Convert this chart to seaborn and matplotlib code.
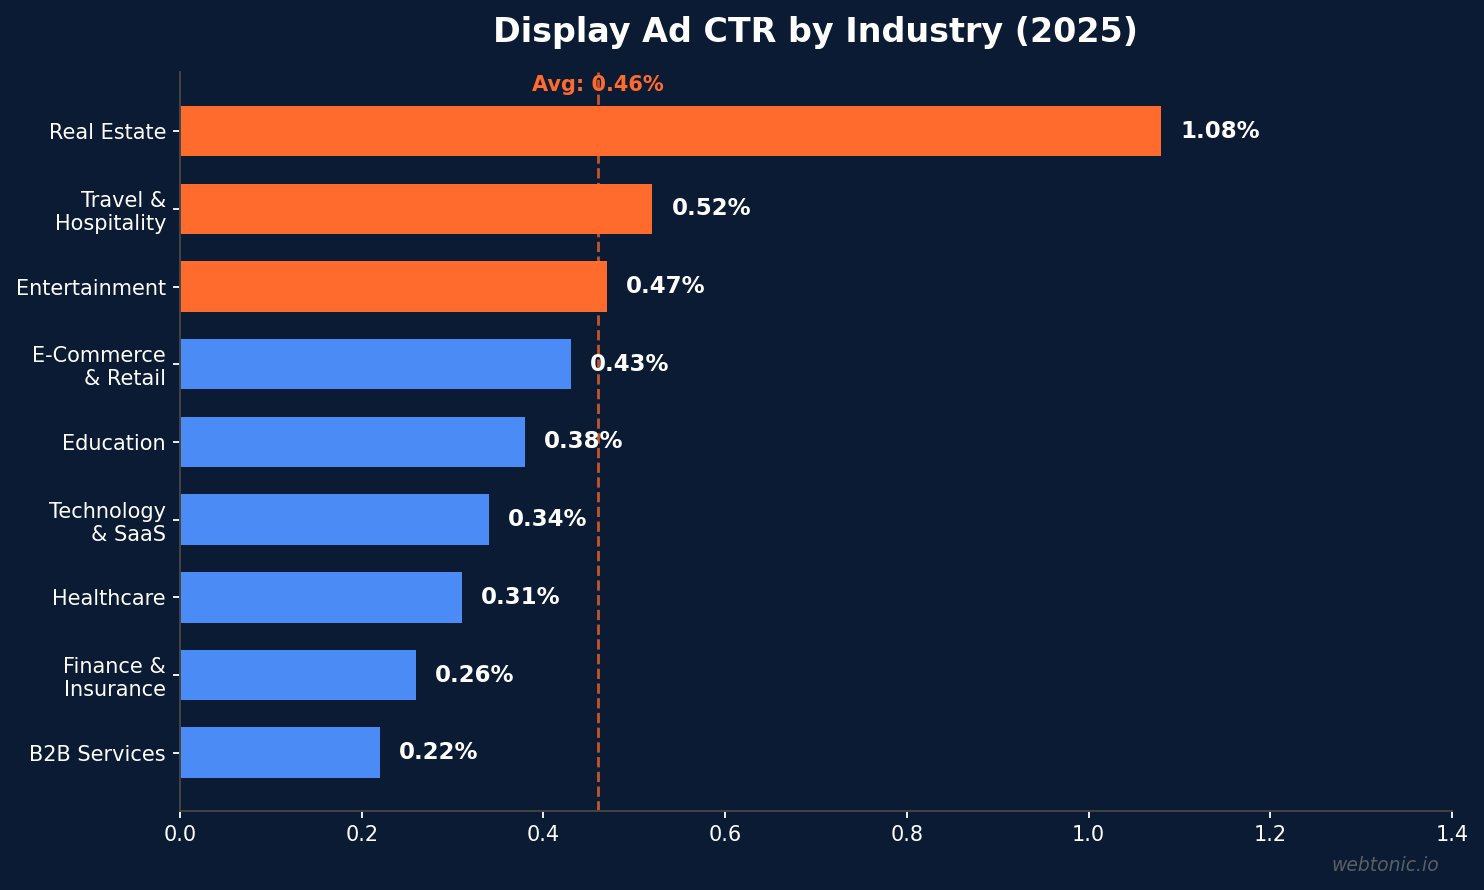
import pandas as pd
import seaborn as sns
import matplotlib.pyplot as plt

industries = ['Real Estate', 'Travel &\nHospitality', 'Entertainment', 'E-Commerce\n& Retail',
              'Education', 'Technology\n& SaaS', 'Healthcare', 'Finance &\nInsurance', 'B2B Services']
ctr = [1.08, 0.52, 0.47, 0.43, 0.38, 0.34, 0.31, 0.26, 0.22]
avg_ctr = 0.46

bg = '#0B1B33'
orange = '#FF6B2C'
blue = '#4B8BF5'

df = pd.DataFrame({'industry': industries, 'ctr': ctr})
df['group'] = ['above' if v > avg_ctr else 'below' for v in ctr]

sns.set_style('white')
plt.rcParams['font.family'] = ['DejaVu Sans']

fig = plt.figure(figsize=(14.84, 8.9), dpi=100, facecolor=bg)
ax = fig.add_axes([0.1213, 0.0888, 0.8571, 0.8302])
ax.set_facecolor(bg)

sns.barplot(data=df, x='ctr', y='industry', hue='group', palette={'above': orange, 'below': blue},
            width=0.65, dodge=False, legend=False, ax=ax, saturation=1, linewidth=0)

for i, v in enumerate(ctr):
    ax.text(v + 0.021, i, f'{v:.2f}%', va='center', ha='left', color='white',
            fontsize=16.5, fontweight='bold')

ax.axvline(avg_ctr, color=orange, linestyle='--', linewidth=2, alpha=0.75)
ax.text(avg_ctr, -0.59, f'Avg: {avg_ctr:.2f}%', ha='center', va='center', color=orange,
        fontsize=15, fontweight='bold')

ax.set_xlim(0, 1.4)
ax.set_ylim(8.75, -0.76)
ax.set_xlabel('')
ax.set_ylabel('')
ax.set_title('Display Ad CTR by Industry (2025)', color='white', fontsize=24,
             fontweight='bold', pad=22)

ax.tick_params(colors='white', labelsize=15, length=5, width=1.3, pad=5, left=True, bottom=True)
for side in ['top', 'right']:
    ax.spines[side].set_visible(False)
for side in ['left', 'bottom']:
    ax.spines[side].set_color('#444444')
    ax.spines[side].set_linewidth(1.4)

fig.text(0.970, 0.028, 'webtonic.io', ha='right', va='center', color='#5a5f66',
         fontsize=13.5, style='italic')

fig.savefig('out.png', dpi=100, facecolor=bg)
